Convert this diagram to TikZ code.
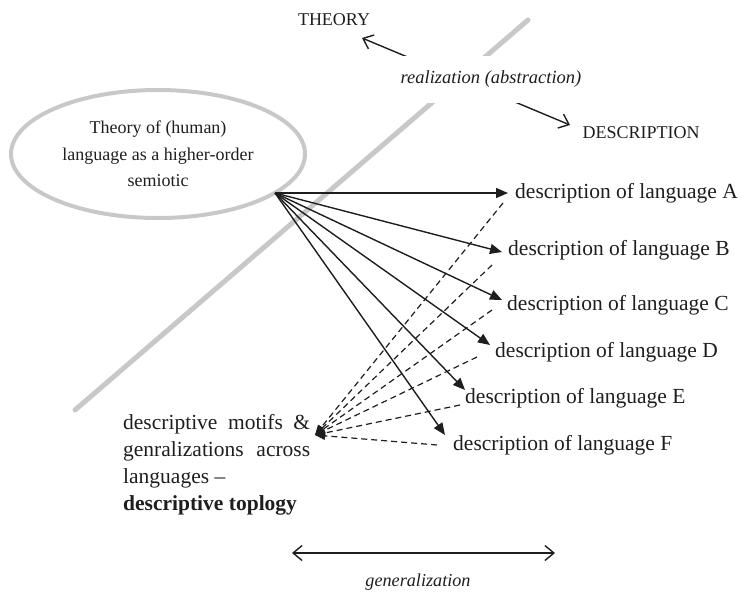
\documentclass[tikz,border=0pt]{standalone}
\usepackage{fontspec}
\setmainfont{Liberation Serif}
\usetikzlibrary{arrows.meta,shapes.geometric}
\definecolor{grayline}{HTML}{C8C8C8}
\definecolor{ink}{HTML}{1E1E1E}
\begin{document}
\begin{tikzpicture}[x=1pt,y=-1pt,
  desc/.style={anchor=west,inner sep=0pt,font=\fontsize{21.5}{26}\selectfont,text=ink},
  captext/.style={inner sep=0pt,font=\fontsize{18}{22}\selectfont,text=ink},
  fanarrow/.style={draw=ink,line width=1.4pt,-{Triangle[length=12pt,width=10pt]}},
  dasharrow/.style={draw=ink,line width=1.2pt,dash pattern=on 6pt off 4pt,-{Triangle[length=10pt,width=8pt]}},
  barbs/.style={draw=ink,line width=1.4pt,{Straight Barb[length=9pt,width=15pt]}-{Straight Barb[length=9pt,width=15pt]}}]
\useasboundingbox (0,0) rectangle (743,594);
% gray divider
\coordinate (g1) at (528,20);
\coordinate (g2) at (75,410);
\draw[grayline,line width=5pt,line cap=round] (g1) -- (g2);
% theory ellipse
\node[ellipse,draw=grayline,line width=4pt,minimum width=294pt,minimum height=128pt,inner sep=0pt,align=center,text=ink,font=\fontsize{18}{26.5}\selectfont] (th) at (158,154) {Theory of (human)\\language as a higher-order\\semiotic};
% top realization arrow
\node[captext] (theory) at (334,20) {THEORY};
\node[captext] (descr) at (641,133) {DESCRIPTION};
\coordinate (ta) at (362,38);
\coordinate (da) at (570,125);
\draw[barbs] (ta) -- (da);
\node[fill=white,inner sep=0pt,minimum height=47pt,text=ink,font=\itshape\fontsize{18.5}{22}\selectfont] (real) at (491,79) {realization (abstraction)};
% descriptions
\node[desc] (dA) at (515,193) {description of language A};
\node[desc] (dB) at (508,250) {description of language B};
\node[desc] (dC) at (507,305) {description of language C};
\node[desc] (dD) at (495,352) {description of language D};
\node[desc] (dE) at (465,398) {description of language E};
\node[desc] (dF) at (453,445) {description of language F};
% fan
\coordinate (o) at (275,193);
\coordinate (tA) at (508,193);
\coordinate (tB) at (502,252);
\coordinate (tC) at (502,300);
\coordinate (tD) at (490,345);
\coordinate (tE) at (465,390);
\coordinate (tF) at (445,435);
\foreach \t in {tA,tB,tC,tD,tE,tF} \draw[fanarrow] (o) -- (\t);
% motif text
\node[anchor=north west,inner sep=0pt,align=left,text=ink,font=\fontsize{21.5}{27}\selectfont] (motif) at (123,414) {\makebox[187pt][s]{descriptive motifs \&}\\\makebox[187pt][s]{genralizations across}\\languages –\\\textbf{descriptive toplogy}};
\coordinate (m) at (315,435);
\coordinate (sA) at (503,203);
\coordinate (sB) at (492,265);
\coordinate (sC) at (492,310);
\coordinate (sD) at (477,357);
\coordinate (sE) at (460,405);
\coordinate (sF) at (437,445);
\foreach \s in {sA,sB,sC,sD,sE,sF} \draw[dasharrow] (\s) -- (m);
% generalization
\coordinate (gl) at (292,553);
\coordinate (gr) at (555,553);
\draw[barbs] (gl) -- (gr);
\node[inner sep=0pt,text=ink,font=\itshape\fontsize{18.2}{22}\selectfont] (gen) at (418,582) {generalization};
\end{tikzpicture}
\end{document}
